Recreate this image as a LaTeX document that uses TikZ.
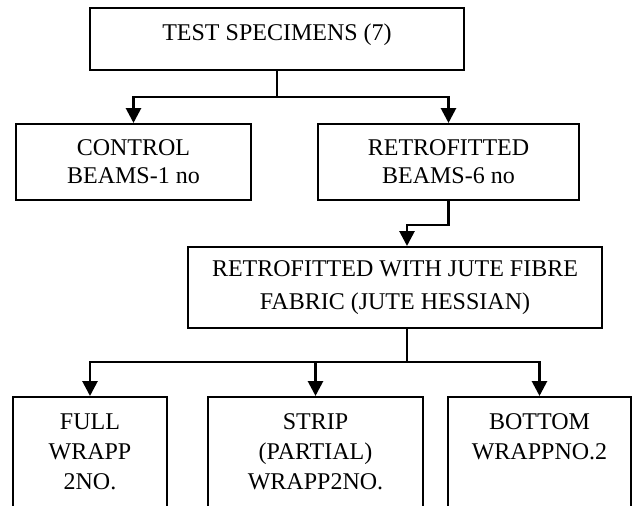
\documentclass[tikz,border=0pt]{standalone}
\usepackage{fontspec}
\setmainfont{Liberation Serif}
\usetikzlibrary{arrows.meta}
\newcommand\topalignedtext[2]{\parbox[t][140pt][t]{#1}{\centering\vspace*{17pt}#2}}
\begin{document}
\begin{tikzpicture}[x=1pt,y=-1pt,
  box/.style={draw, line width=2pt, inner sep=0pt, align=center, font=\fontsize{24}{28}\selectfont},
  conn/.style={line width=2.8pt},
  arr/.style={conn, -{Triangle[width=15pt,length=15pt]}}]
\useasboundingbox (0,0) rectangle (633,506);
\clip (0,0) rectangle (633,506);
\node[box, minimum width=374pt, minimum height=62pt, text height=14pt, text depth=10pt] (top) at (277,39) {TEST SPECIMENS (7)};
\node[box, minimum width=235pt, minimum height=76pt] (ctrl) at (133.5,162) {CONTROL\\BEAMS-1 no};
\node[box, minimum width=261pt, minimum height=76pt] (retro) at (448.5,162) {RETROFITTED\\BEAMS-6 no};
\node[box, minimum width=414pt, minimum height=81pt, font=\fontsize{24}{33}\selectfont] (jute) at (395,287.5) {RETROFITTED WITH JUTE FIBRE\\FABRIC (JUTE HESSIAN)};
\node[box, anchor=north, font=\fontsize{24}{30}\selectfont] (full) at (90,396) {\topalignedtext{154pt}{FULL\\WRAPP\\2NO.}};
\node[box, anchor=north, font=\fontsize{24}{30}\selectfont] (strip) at (315.5,396) {\topalignedtext{215pt}{STRIP\\(PARTIAL)\\WRAPP2NO.}};
\node[box, anchor=north, font=\fontsize{24}{30}\selectfont] (bot) at (539.5,396) {\topalignedtext{183pt}{BOTTOM\\WRAPPNO.2}};
\coordinate (b1) at (277,97);
\draw[arr] (top.south) -- (b1) -| (ctrl.north);
\draw[arr] (b1) -| (retro.north);
\coordinate (jx) at (407,0);
\draw[arr] (retro.south) -- ++(0,24) -| (jute.north -| jx);
\coordinate (b2) at (407,362);
\draw[arr] (jute.south -| jx) -- (b2) -| (full.north);
\draw[arr] (b2) -| (strip.north);
\draw[arr] (b2) -| (bot.north);
\end{tikzpicture}
\end{document}
